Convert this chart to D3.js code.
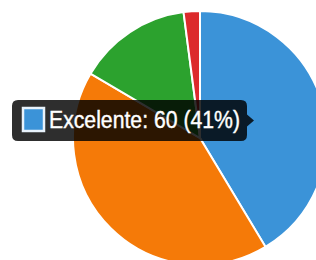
<!DOCTYPE html>
<html>
<head>
<meta charset="utf-8">
<script src="https://cdn.jsdelivr.net/npm/d3@7"></script>
<style>
  html, body { margin: 0; padding: 0; background: #fff; }
  svg { display: block; }
</style>
</head>
<body>
<svg id="chart" width="316" height="260"></svg>
<script>
// data
const labels = ['Excelente', 'Bueno', 'Regular', 'Malo'];
const values = [60, 61, 21, 3];
const colors = ['#3b93d8', '#f57a08', '#2ca22e', '#dc2a2c'];
const tipIndex = 0;

const width = 316, height = 260;
const cx = 200, cy = 138, radius = 127;

const svg = d3.select('#chart');
const g = svg.append('g').attr('transform', `translate(${cx},${cy})`);

const total = d3.sum(values);
const pie = d3.pie().sort(null).value(d => d);
const arc = d3.arc().innerRadius(0).outerRadius(radius);
const color = d3.scaleOrdinal().domain(labels).range(colors);

g.selectAll('path')
  .data(pie(values))
  .enter()
  .append('path')
  .attr('d', arc)
  .attr('fill', (d, i) => color(labels[i]))
  .attr('stroke', '#fff')
  .style('stroke-width', '2px');

// tooltip like the hover box
const pct = Math.round(values[tipIndex] / total * 100);
const tipText = `${labels[tipIndex]}: ${values[tipIndex]} (${pct}%)`;

const tip = svg.append('g');
const bx = 12, by = 100, bh = 41;
const bg = tip.append('path').attr('fill', 'rgba(0,0,0,0.82)');

tip.append('rect')
  .attr('x', 23).attr('y', 108)
  .attr('width', 21).attr('height', 23)
  .attr('fill', color(labels[tipIndex]))
  .attr('stroke', '#e8f2fb')
  .style('stroke-width', '2.5px');

const txt = tip.append('text')
  .attr('x', 49).attr('y', 128)
  .attr('fill', '#fff')
  .style('font-family', 'Liberation Sans, Arial, sans-serif')
  .style('font-size', '23.5px')
  .style('stroke', '#fff')
  .style('stroke-width', '0.4px')
  .text(tipText);

const tw = 191;
txt.attr('textLength', tw).attr('lengthAdjust', 'spacingAndGlyphs');

const bw = 49 + tw + 7 - bx, r = 6;
const right = bx + bw, mid = by + bh / 2;
bg.attr('d', `M${bx + r},${by} H${right - r} Q${right},${by} ${right},${by + r}
  V${mid - 6} L${right + 7},${mid} L${right},${mid + 6}
  V${by + bh - r} Q${right},${by + bh} ${right - r},${by + bh}
  H${bx + r} Q${bx},${by + bh} ${bx},${by + bh - r}
  V${by + r} Q${bx},${by} ${bx + r},${by} Z`);
</script>
</body>
</html>
